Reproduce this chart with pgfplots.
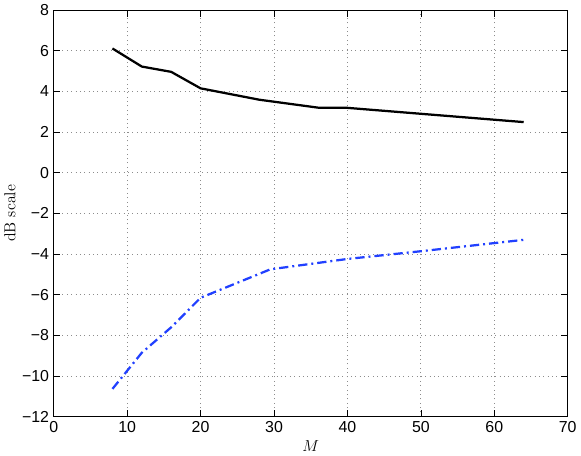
\documentclass[border=0pt]{standalone}
\usepackage{fontspec}
\usepackage{pgfplots}
\pgfplotsset{compat=1.18}
\newfontfamily\arial{Liberation Sans}
\definecolor{mblue}{rgb}{0.13,0.25,1}
\begin{document}
\begin{tikzpicture}
  \begin{axis}[
      width=388pt, height=307pt, scale only axis,
      xmin=0, xmax=70, ymin=-12, ymax=8,
      xtick={0,10,...,70},
      ytick={-12,-10,...,8},
      yticklabels={−12,−10,−8,−6,−4,−2,0,2,4,6,8},
      tick label style={font=\arial\fontsize{12}{14}\selectfont},
      /pgf/number format/assume math mode=true,
      xlabel={$M$},
      ylabel={dB scale},
      label style={font=\fontsize{12}{14}\selectfont},
      xlabel style={yshift=1pt},
      ylabel style={yshift=-2pt},
      grid=major,
      major grid style={gray!90, line width=0.6pt, dash pattern=on 0.7pt off 2.6pt},
      axis line style={line width=0.6pt},
      tick style={black, line width=0.5pt},
      major tick length=5pt,
    ]
    \addplot[black, line width=1.7pt] coordinates {
      (8,6.11) (12,5.22) (16,4.96) (20,4.15) (28,3.59) (36,3.20) (40,3.19) (64,2.49)
    };
    \addplot[mblue, line width=1.7pt, dash pattern=on 7pt off 3pt on 1.5pt off 3pt] coordinates {
      (8,-10.63) (12,-8.85) (16,-7.60) (20,-6.15) (29.5,-4.75) (40,-4.24) (50,-3.86) (64,-3.30)
    };
  \end{axis}
\end{tikzpicture}
\end{document}
